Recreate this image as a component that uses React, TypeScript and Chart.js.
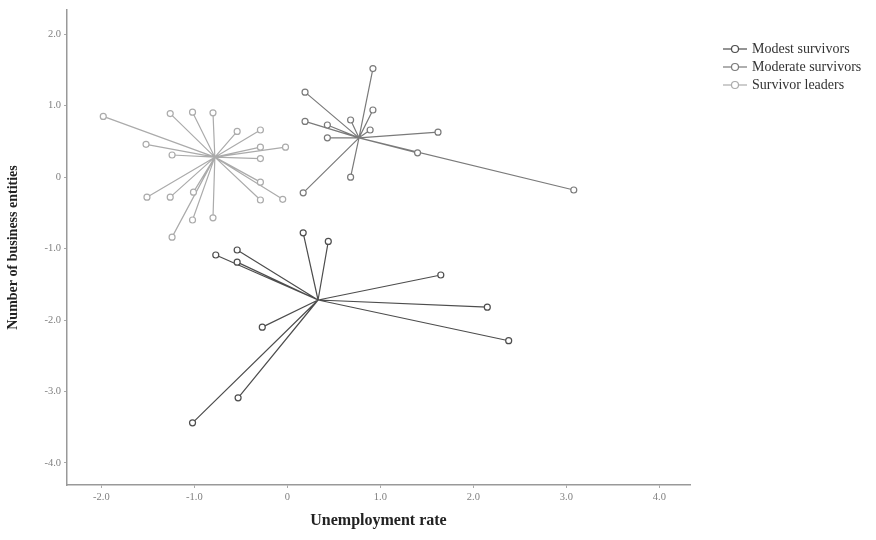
import React, { useEffect, useRef } from "react";
import { Chart, registerables } from "chart.js";

Chart.register(...registerables);

// ---- Data ----
const clusterNames = ["Modest survivors", "Moderate survivors", "Survivor leaders"];
const clusterColors = ["#4d4d4d", "#7a7a7a", "#ababab"];

// centroids [x, y]  (x = Unemployment rate, y = Number of business entities)
const modestCentroid = [0.33, -1.72];
const moderateCentroid = [0.77, 0.55];
const leadersCentroid = [-0.78, 0.28];

const modestX = [0.17, 0.44, -0.77, -0.54, -0.54, 1.65, 2.15, 2.38, -0.27, -0.53, -1.02];
const modestY = [-0.78, -0.9, -1.09, -1.02, -1.19, -1.37, -1.82, -2.29, -2.1, -3.09, -3.44];

const moderateX = [0.92, 0.19, 0.19, 0.43, 0.68, 0.43, 0.92, 0.89, 1.62, 1.4, 3.08, 0.68, 0.17];
const moderateY = [1.52, 1.19, 0.78, 0.73, 0.8, 0.55, 0.94, 0.66, 0.63, 0.34, -0.18, 0.0, -0.22];

const leadersX = [-1.98, -1.26, -1.02, -0.8, -0.54, -0.29, -1.52, -1.24, -0.29, -0.02, -0.29, -1.51, -1.26, -1.01, -1.02, -0.8, -1.24, -0.29, -0.05, -0.29];
const leadersY = [0.85, 0.89, 0.91, 0.9, 0.64, 0.66, 0.46, 0.31, 0.42, 0.42, 0.26, -0.28, -0.28, -0.21, -0.6, -0.57, -0.84, -0.32, -0.31, -0.07];

const xTicks = [-2, -1, 0, 1, 2, 3, 4];
const yTicks = [2, 1, 0, -1, -2, -3, -4];

function fmt(v: number): string {
  return v === 0 ? "0" : v.toFixed(1);
}

function spokes(c: number[], xs: number[], ys: number[]) {
  const out: { x: number; y: number }[] = [];
  for (let i = 0; i < xs.length; i++) {
    out.push({ x: c[0], y: c[1] });
    out.push({ x: xs[i], y: ys[i] });
    out.push({ x: NaN, y: NaN });
  }
  return out;
}

const SERIF = "'Liberation Serif', 'DejaVu Serif', serif";

function LegendIcon({ color }: { color: string }) {
  return (
    <svg width="26" height="10" style={{ marginRight: 4 }}>
      <line x1="1" y1="5" x2="25" y2="5" stroke={color} strokeWidth="1.2" />
      <circle cx="13" cy="5" r="3.5" fill="#fff" stroke={color} strokeWidth="1.2" />
    </svg>
  );
}

export default function App() {
  const ref = useRef<HTMLCanvasElement | null>(null);

  useEffect(() => {
    if (!ref.current) return;
    const sets = [
      spokes(modestCentroid, modestX, modestY),
      spokes(moderateCentroid, moderateX, moderateY),
      spokes(leadersCentroid, leadersX, leadersY),
    ];
    const chart = new Chart(ref.current, {
      type: "scatter",
      data: {
        datasets: sets
          .map((d, i) => ({
            label: clusterNames[i],
            data: d,
            showLine: true,
            spanGaps: false,
            borderColor: clusterColors[i],
            borderWidth: 1.2,
            backgroundColor: "#ffffff",
            pointBorderColor: clusterColors[i],
            pointBackgroundColor: "#ffffff",
            pointBorderWidth: 1.2,
            pointRadius: (ctx: any) => (ctx.dataIndex % 3 === 1 ? 3 : 0),
            order: i,
          }))
          .reverse(),
      },
      options: {
        animation: false,
        responsive: false,
        maintainAspectRatio: false,
        layout: { padding: { left: 0, right: 186, top: 10, bottom: 0 } },
        plugins: { legend: { display: false }, tooltip: { enabled: false } },
        scales: {
          x: {
            type: "linear",
            min: -2.37,
            max: 4.33,
            afterBuildTicks: (s: any) => {
              s.ticks = xTicks.map((v) => ({ value: v }));
            },
            afterFit: (s: any) => {
              s.height = 55;
            },
            ticks: {
              callback: (v: any) => fmt(Number(v)),
              font: { family: SERIF, size: 10.5 },
              color: "#808080",
              padding: 3,
              maxRotation: 0,
            },
            grid: { display: true, drawOnChartArea: false, drawTicks: true, tickLength: 3, color: "#aaa" },
            border: { display: true, color: "#999", width: 1.5 },
            title: {
              display: true,
              text: "Unemployment rate",
              font: { family: SERIF, size: 16, weight: "bold" },
              color: "#222",
              padding: 10,
            },
          },
          y: {
            type: "linear",
            min: -4.31,
            max: 2.34,
            afterBuildTicks: (s: any) => {
              s.ticks = yTicks.map((v) => ({ value: v }));
            },
            afterFit: (s: any) => {
              s.width = 67;
            },
            ticks: {
              callback: (v: any) => fmt(Number(v)),
              font: { family: SERIF, size: 10.5 },
              color: "#808080",
              padding: 3,
            },
            grid: { display: true, drawOnChartArea: false, drawTicks: true, tickLength: 3, color: "#aaa" },
            border: { display: true, color: "#999", width: 1.5 },
            title: {
              display: true,
              text: "Number of business entities",
              font: { family: SERIF, size: 14, weight: "bold" },
              color: "#222",
              padding: 5,
            },
          },
        },
      } as any,
    });
    return () => chart.destroy();
  }, []);

  return (
    <div style={{ position: "fixed", left: 0, top: 0, width: 876, height: 540, background: "#fff" }}>
      <canvas ref={ref} width={876} height={540} style={{ width: 876, height: 540, display: "block" }} />
      <div
        style={{
          position: "absolute",
          left: 722,
          top: 40,
          fontFamily: SERIF,
          fontSize: 14,
          color: "#333",
          lineHeight: "18px",
        }}
      >
        {clusterNames.map((n, i) => (
          <div key={n} style={{ display: "flex", alignItems: "center", height: 18, whiteSpace: "nowrap" }}>
            <LegendIcon color={clusterColors[i]} />
            <span>{n}</span>
          </div>
        ))}
      </div>
    </div>
  );
}
